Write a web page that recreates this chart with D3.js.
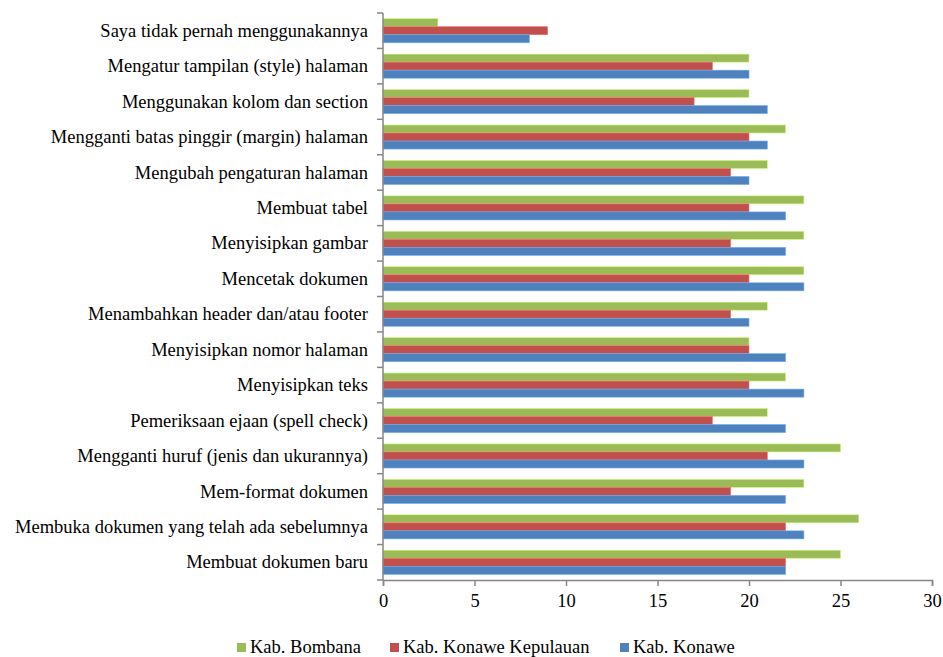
<!DOCTYPE html>
<html>
<head>
<meta charset="utf-8">
<script src="https://cdn.jsdelivr.net/npm/d3@7"></script>
<style>
  body { margin: 0; background: #fff; }
</style>
</head>
<body>
<svg id="chart"></svg>
<script>
// categories, top to bottom
const categories = [
    "Saya tidak pernah menggunakannya",
    "Mengatur tampilan (style) halaman",
    "Menggunakan kolom dan section",
    "Mengganti batas pinggir (margin) halaman",
    "Mengubah pengaturan halaman",
    "Membuat tabel",
    "Menyisipkan gambar",
    "Mencetak dokumen",
    "Menambahkan header dan/atau footer",
    "Menyisipkan nomor halaman",
    "Menyisipkan teks",
    "Pemeriksaan ejaan (spell check)",
    "Mengganti huruf (jenis dan ukurannya)",
    "Mem-format dokumen",
    "Membuka dokumen yang telah ada sebelumnya",
    "Membuat dokumen baru"
];

const seriesNames = ["Kab. Bombana", "Kab. Konawe Kepulauan", "Kab. Konawe"];
const seriesColors = ["#9BBB59", "#C0504D", "#4F81BD"];

const bombana = [3, 20, 20, 22, 21, 23, 23, 23, 21, 20, 22, 21, 25, 23, 26, 25];
const konaweKepulauan = [9, 18, 17, 20, 19, 20, 19, 20, 19, 20, 20, 18, 21, 19, 22, 22];
const konawe = [8, 20, 21, 21, 20, 22, 22, 23, 20, 22, 23, 22, 23, 22, 23, 22];

const xTicks = [0, 5, 10, 15, 20, 25, 30];

const seriesValues = [bombana, konaweKepulauan, konawe];

const FONT = "Liberation Serif";

const width = 943, height = 657;
const margin = { top: 13, right: 11, bottom: 77, left: 383 };
const innerW = width - margin.left - margin.right;
const innerH = height - margin.top - margin.bottom;

const svg = d3.select("#chart").attr("width", width).attr("height", height);
const chart = svg.append("g").attr("transform", `translate(${margin.left},${margin.top})`);

const x = d3.scaleLinear().domain([0, 30]).range([0, innerW]);

const y = d3.scaleBand()
    .domain(categories)
    .range([0, innerH])
    .paddingInner(0.32)
    .paddingOuter(0.16);

const ySub = d3.scaleBand()
    .domain(seriesNames)
    .range([0, y.bandwidth()]);

const rows = categories.map((c, i) => ({
    category: c,
    values: seriesNames.map((s, j) => ({ series: s, color: seriesColors[j], value: seriesValues[j][i] }))
}));

const groups = chart.selectAll(".grp")
    .data(rows)
    .enter()
    .append("g")
    .attr("class", "grp")
    .attr("transform", d => `translate(0,${y(d.category)})`);

groups.selectAll("rect")
    .data(d => d.values)
    .enter()
    .append("rect")
    .attr("x", x(0))
    .attr("y", d => ySub(d.series))
    .attr("width", d => x(d.value) - x(0))
    .attr("height", ySub.bandwidth())
    .attr("fill", d => d.color)
    .attr("stroke", d => d3.color(d.color).brighter(0.8))
    .attr("stroke-width", 0.6);

// y axis: ticks on category boundaries
const yAxisG = chart.append("g");
yAxisG.append("line")
    .attr("x1", 0).attr("x2", 0)
    .attr("y1", 0).attr("y2", innerH)
    .attr("stroke", "#868686").attr("stroke-width", 1.5);

const step = innerH / categories.length;
yAxisG.selectAll(".ytick")
    .data(d3.range(categories.length + 1))
    .enter()
    .append("line")
    .attr("x1", -6).attr("x2", 0)
    .attr("y1", d => d * step).attr("y2", d => d * step)
    .attr("stroke", "#868686").attr("stroke-width", 1.5);

yAxisG.selectAll(".ylabel")
    .data(categories)
    .enter()
    .append("text")
    .attr("x", -15)
    .attr("y", d => y(d) + y.bandwidth() / 2)
    .attr("dy", "0.33em")
    .attr("text-anchor", "end")
    .style("font-family", FONT)
    .style("font-size", "18.5px")
    .attr("fill", "#000")
    .text(d => d);

// x axis
const xAxis = chart.append("g")
    .attr("transform", `translate(0,${innerH})`)
    .call(d3.axisBottom(x).tickValues(xTicks).tickSize(6).tickPadding(8));
xAxis.select(".domain").attr("stroke", "#868686").attr("stroke-width", 1.5);
xAxis.selectAll(".tick line").attr("stroke", "#868686").attr("stroke-width", 1.5);
xAxis.selectAll(".tick text")
    .style("font-family", FONT)
    .style("font-size", "18.5px")
    .attr("fill", "#000");

// legend
const legendX = [237, 390, 620];
const legend = svg.append("g");
seriesNames.forEach((s, i) => {
    legend.append("rect")
        .attr("x", legendX[i]).attr("y", 643)
        .attr("width", 9).attr("height", 9)
        .attr("fill", seriesColors[i]);
    legend.append("text")
        .attr("x", legendX[i] + 13).attr("y", 653)
        .style("font-family", FONT)
        .style("font-size", "18.5px")
        .attr("fill", "#000")
        .text(s);
});
</script>
</body>
</html>
